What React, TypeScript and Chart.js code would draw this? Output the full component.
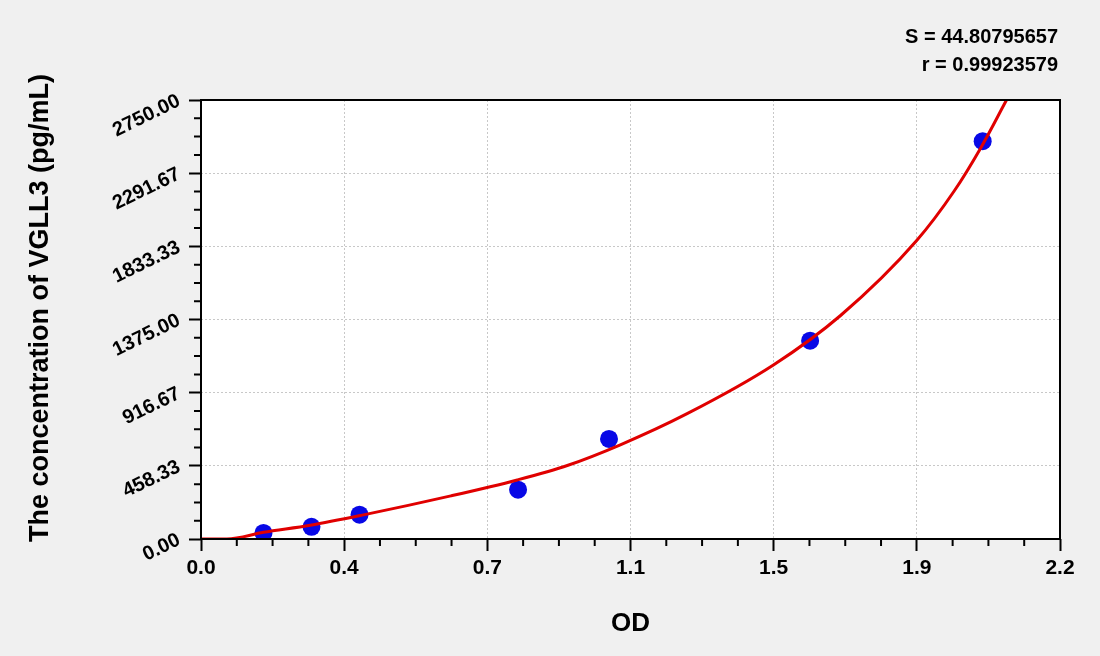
import React, { useEffect, useRef } from 'react';
import { Chart, registerables } from 'chart.js';

Chart.register(...registerables);

// axis ranges and tick labels
const X_MAX = 2.2;
const Y_MAX = 2750;
const X_TICK_LABELS = ['0.0', '0.4', '0.7', '1.1', '1.5', '1.9', '2.2'];
const Y_TICK_LABELS = ['0.00', '458.33', '916.67', '1375.00', '1833.33', '2291.67', '2750.00'];

// standards (blue dots)
const STD_OD = [0.16, 0.283, 0.406, 0.812, 1.045, 1.56, 2.002];
const STD_CONC = [38, 76, 152, 309, 627, 1242, 2492];

// fitted curve (red line)
const FIT_OD = [0, 0.066, 0.16, 0.28, 0.41, 0.64, 0.81, 0.94, 1.074, 1.245, 1.466, 1.638, 1.833, 1.929, 1.997, 2.063];
const FIT_CONC = [0, 0, 42, 86, 148, 270, 370, 462, 590, 785, 1090, 1400, 1870, 2180, 2450, 2750];

const STATS = ['S = 44.80795657', 'r = 0.99923579'];
const X_TITLE = 'OD';
const Y_TITLE = 'The concentration of VGLL3 (pg/mL)';

const FONT = '"Liberation Sans", Arial, sans-serif';

const framePlugin = {
  id: 'frame',
  beforeDraw(chart: any) {
    const { ctx, chartArea: a } = chart;
    ctx.save();
    ctx.fillStyle = '#ffffff';
    ctx.fillRect(a.left, a.top, a.right - a.left, a.bottom - a.top);
    ctx.restore();
  },
  afterDraw(chart: any) {
    const { ctx, chartArea: a, scales } = chart;
    ctx.save();
    ctx.strokeStyle = '#000';
    ctx.lineWidth = 2;
    ctx.strokeRect(a.left, a.top, a.right - a.left, a.bottom - a.top);

    // minor ticks, 3 between each pair of majors
    ctx.beginPath();
    const nx = X_TICK_LABELS.length - 1;
    for (let i = 0; i < nx; i++) {
      for (let k = 1; k < 4; k++) {
        const px = scales.x.getPixelForValue((X_MAX * (i + k / 4)) / nx);
        ctx.moveTo(px, a.bottom);
        ctx.lineTo(px, a.bottom + 7);
      }
    }
    const ny = Y_TICK_LABELS.length - 1;
    for (let i = 0; i < ny; i++) {
      for (let k = 1; k < 4; k++) {
        const py = scales.y.getPixelForValue((Y_MAX * (i + k / 4)) / ny);
        ctx.moveTo(a.left, py);
        ctx.lineTo(a.left - 7, py);
      }
    }
    ctx.stroke();

    // fit statistics
    ctx.fillStyle = '#000';
    ctx.font = `bold 20px ${FONT}`;
    ctx.textAlign = 'right';
    ctx.textBaseline = 'middle';
    STATS.forEach((s, i) => ctx.fillText(s, a.right - 2, 37 + i * 28));

    // y axis title
    ctx.translate(41, 308);
    ctx.rotate(-Math.PI / 2);
    ctx.font = `bold 27px ${FONT}`;
    ctx.textAlign = 'center';
    ctx.fillText(Y_TITLE, 0, 0);
    ctx.restore();
  },
};

const App: React.FC = () => {
  const canvasRef = useRef<HTMLCanvasElement>(null);

  useEffect(() => {
    if (!canvasRef.current) return;
    const ctx = canvasRef.current.getContext('2d');
    if (!ctx) return;

    const chart = new Chart(ctx, {
      type: 'scatter',
      data: {
        datasets: [
          {
            label: 'fit',
            data: FIT_OD.map((x, i) => ({ x, y: FIT_CONC[i] })),
            showLine: true,
            borderColor: '#e00000',
            borderWidth: 3,
            pointRadius: 0,
            cubicInterpolationMode: 'monotone',
          },
          {
            label: 'standards',
            data: STD_OD.map((x, i) => ({ x, y: STD_CONC[i] })),
            backgroundColor: '#0808e6',
            borderWidth: 0,
            pointRadius: 9,
          },
        ],
      },
      options: {
        responsive: false,
        animation: false,
        layout: { padding: { top: 100, right: 40, left: 0, bottom: 0 } },
        plugins: {
          legend: { display: false },
          tooltip: { enabled: false },
        },
        scales: {
          x: {
            type: 'linear',
            min: 0,
            max: X_MAX,
            afterBuildTicks: (scale: any) => {
              const n = X_TICK_LABELS.length - 1;
              scale.ticks = X_TICK_LABELS.map((_, i) => ({ value: (X_MAX * i) / n }));
            },
            afterFit: (scale: any) => {
              scale.height = 117;
            },
            ticks: {
              autoSkip: false,
              maxRotation: 0,
              padding: 5,
              color: '#000',
              font: { family: FONT, size: 21, weight: 'bold' },
              callback: (_v: any, i: number) => X_TICK_LABELS[i],
            },
            grid: {
              color: '#c8c8c8',
              lineWidth: 1,
              drawTicks: true,
              tickLength: 12,
              tickColor: '#000',
              tickWidth: 2,
            },
            border: { display: false, dash: [2, 2] },
            title: {
              display: true,
              text: X_TITLE,
              color: '#000',
              font: { family: FONT, size: 26, weight: 'bold' },
              padding: { top: 0, bottom: 17 },
            },
          },
          y: {
            type: 'linear',
            min: 0,
            max: Y_MAX,
            afterBuildTicks: (scale: any) => {
              const n = Y_TICK_LABELS.length - 1;
              scale.ticks = Y_TICK_LABELS.map((_, i) => ({ value: (Y_MAX * i) / n }));
            },
            afterFit: (scale: any) => {
              scale.width = 201;
            },
            ticks: {
              autoSkip: false,
              minRotation: 26,
              maxRotation: 26,
              padding: 10,
              color: '#000',
              font: { family: FONT, size: 20, weight: 'bold' },
              callback: (_v: any, i: number) => Y_TICK_LABELS[i],
            },
            grid: {
              color: '#c8c8c8',
              lineWidth: 1,
              drawTicks: true,
              tickLength: 12,
              tickColor: '#000',
              tickWidth: 2,
            },
            border: { display: false, dash: [2, 2] },
          },
        },
      },
      plugins: [framePlugin],
    });

    return () => {
      chart.destroy();
    };
  }, []);

  return (
    <div
      style={{
        position: 'absolute',
        left: 0,
        top: 0,
        width: '1100px',
        height: '656px',
        background: '#f0f0f0',
      }}
    >
      <canvas ref={canvasRef} width={1100} height={656} />
    </div>
  );
};

export default App;
